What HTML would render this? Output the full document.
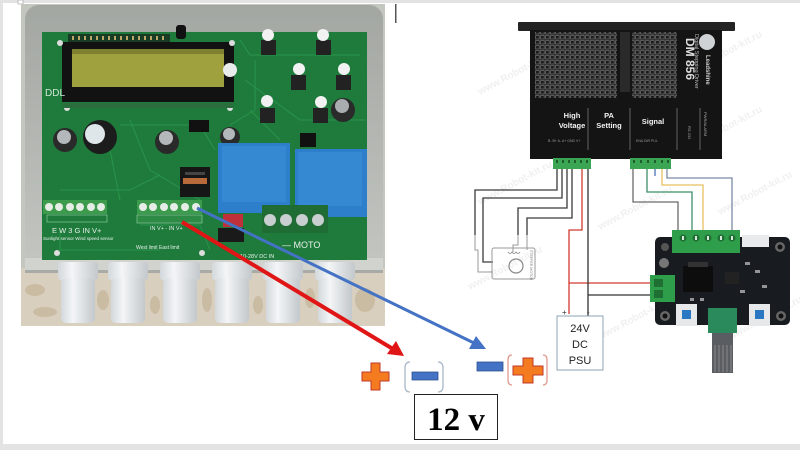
<!DOCTYPE html>
<html><head><meta charset="utf-8"><style>
html,body{margin:0;padding:0;background:#fff;}
svg{display:block;}
text{font-family:"Liberation Sans",sans-serif;}
</style></head><body>
<svg width="800" height="450" viewBox="0 0 800 450" xmlns="http://www.w3.org/2000/svg">
<defs>
<pattern id="grid" width="5" height="5" patternUnits="userSpaceOnUse">
<rect width="5" height="5" fill="#1b1b1b"/>
<rect x="0.6" y="0.6" width="3.6" height="3.4" fill="none" stroke="#6a6a6a" stroke-width="0.8"/>
</pattern>
<linearGradient id="case" x1="0" y1="0" x2="0" y2="1">
<stop offset="0" stop-color="#a3a7a2"/><stop offset="1" stop-color="#c3c6c1"/>
</linearGradient>
<linearGradient id="gland" x1="0" y1="0" x2="1" y2="0">
<stop offset="0" stop-color="#d3d8dc"/><stop offset="0.35" stop-color="#f3f5f6"/><stop offset="1" stop-color="#c3c8cc"/>
</linearGradient>
</defs>

<!-- page frame -->
<rect x="0" y="0" width="800" height="450" fill="#fff"/>
<rect x="0" y="0" width="800" height="3" fill="#e3e3e3"/>
<rect x="0" y="0" width="3" height="450" fill="#e3e3e3"/>
<rect x="0" y="444" width="800" height="6" fill="#e4e4e4"/>
<rect x="18" y="0" width="5" height="4" fill="#fff" stroke="#aaa" stroke-width="0.7"/>
<rect x="395" y="4" width="1.5" height="19" fill="#555"/>

<!-- ===== LEFT PHOTO ===== -->
<rect x="21" y="4" width="364" height="322" fill="#c4c6c0"/>
<rect x="21" y="268" width="364" height="58" fill="#d9cfbf"/>
<g fill="#c4b398" opacity="0.7">
<ellipse cx="35" cy="290" rx="10" ry="6"/><ellipse cx="45" cy="312" rx="12" ry="5"/>
<ellipse cx="103" cy="300" rx="6" ry="10"/><ellipse cx="155" cy="305" rx="5" ry="9"/>
<ellipse cx="207" cy="300" rx="5" ry="12"/><ellipse cx="258" cy="305" rx="5" ry="9"/>
<ellipse cx="310" cy="298" rx="5" ry="10"/><ellipse cx="365" cy="300" rx="10" ry="12"/>
</g>
<rect x="25" y="5" width="358" height="266" rx="14" fill="url(#case)"/>
<rect x="25" y="258" width="358" height="14" fill="#d1d3ce"/>
<rect x="25" y="270" width="358" height="3" fill="#a8aba6"/>
<!-- PCB -->
<rect x="42" y="32" width="325" height="228" fill="#1e7b3c"/>
<g stroke="#2d9a4e" stroke-width="1" fill="none" opacity="0.8">
<path d="M240 40 L250 55 L360 55"/><path d="M245 80 L300 120 L365 120"/>
<path d="M130 120 L150 170 L200 200"/><path d="M110 150 L120 200"/>
<path d="M60 190 L130 190 L160 175"/><path d="M250 110 L280 140"/>
<path d="M140 225 L200 225 L210 250"/><path d="M60 230 L60 250 L160 250"/>
<path d="M120 125 L200 125 L215 150"/><path d="M255 60 L255 110 L230 125"/>
</g>
<!-- LCD -->
<rect x="68" y="34" width="102" height="8" fill="#1b3c24"/>
<g fill="#b9a86a"><rect x="72" y="36" width="2" height="4"/><rect x="78" y="36" width="2" height="4"/><rect x="84" y="36" width="2" height="4"/><rect x="90" y="36" width="2" height="4"/><rect x="96" y="36" width="2" height="4"/><rect x="102" y="36" width="2" height="4"/><rect x="108" y="36" width="2" height="4"/><rect x="114" y="36" width="2" height="4"/><rect x="120" y="36" width="2" height="4"/><rect x="126" y="36" width="2" height="4"/><rect x="132" y="36" width="2" height="4"/><rect x="138" y="36" width="2" height="4"/><rect x="144" y="36" width="2" height="4"/><rect x="150" y="36" width="2" height="4"/><rect x="156" y="36" width="2" height="4"/><rect x="162" y="36" width="2" height="4"/></g>
<rect x="62" y="42" width="172" height="60" fill="#121212"/>
<rect x="72" y="49" width="152" height="38" fill="#9fa03e"/>
<rect x="72" y="49" width="152" height="5" fill="#7f8030"/>
<circle cx="60" cy="43" r="3" fill="#ddd"/><circle cx="232" cy="43" r="3" fill="#ddd"/>
<circle cx="67" cy="108" r="3" fill="#ddd"/><circle cx="230" cy="108" r="3" fill="#ddd"/>
<rect x="63" y="103" width="170" height="5" fill="#2b6e3d"/>
<circle cx="230" cy="70" r="7" fill="#e8ecea"/>
<rect x="176" y="25" width="10" height="14" rx="3" fill="#111"/>
<!-- buttons -->
<g>
<rect x="261" y="40" width="15" height="15" fill="#222"/><circle cx="268" cy="35" r="6" fill="#f2f2f2"/>
<rect x="316" y="40" width="15" height="15" fill="#222"/><circle cx="323" cy="35" r="6" fill="#f2f2f2"/>
<rect x="291" y="75" width="15" height="15" fill="#222"/><circle cx="299" cy="69" r="6" fill="#f2f2f2"/>
<rect x="336" y="75" width="15" height="15" fill="#222"/><circle cx="344" cy="69" r="6" fill="#f2f2f2"/>
<rect x="260" y="108" width="15" height="15" fill="#222"/><circle cx="267" cy="101" r="6" fill="#f2f2f2"/>
<rect x="313" y="108" width="15" height="15" fill="#222"/><circle cx="321" cy="102" r="6" fill="#f2f2f2"/>
</g>
<!-- capacitors -->
<circle cx="65" cy="140" r="12" fill="#2a2a2a"/><circle cx="64" cy="137" r="7" fill="#b5b8bb"/>
<circle cx="100" cy="137" r="17" fill="#1c1c1c"/><circle cx="95" cy="134" r="10" fill="#dfe6ea"/>
<circle cx="167" cy="142" r="12" fill="#2a2a2a"/><circle cx="166" cy="138" r="7" fill="#b5b8bb"/>
<circle cx="230" cy="137" r="10" fill="#2a2a2a"/><circle cx="229" cy="134" r="6" fill="#b5b8bb"/>
<circle cx="343" cy="110" r="12" fill="#2a2a2a"/><circle cx="342" cy="106" r="7" fill="#a9adb0"/>
<rect x="189" y="120" width="20" height="12" fill="#111"/>
<rect x="300" y="133" width="16" height="14" fill="#111"/>
<!-- inductor -->
<rect x="180" y="167" width="30" height="30" fill="#161616"/>
<rect x="183" y="178" width="24" height="6" fill="#b86a3a"/>
<rect x="185" y="172" width="20" height="3" fill="#444"/>
<!-- relays -->
<rect x="218" y="143" width="72" height="70" fill="#2d7fcb"/>
<rect x="222" y="146" width="64" height="56" fill="#3588d2"/>
<rect x="295" y="149" width="72" height="68" fill="#2d7fcb"/>
<rect x="298" y="152" width="64" height="54" fill="#3588d2"/>
<!-- terminal blocks -->
<rect x="43" y="200" width="64" height="14" fill="#3c9b4c"/>
<g fill="#e6ece6"><circle cx="49" cy="207" r="4"/><circle cx="59" cy="207" r="4"/><circle cx="70" cy="207" r="4"/><circle cx="80" cy="207" r="4"/><circle cx="91" cy="207" r="4"/><circle cx="101" cy="207" r="4"/></g>
<rect x="47" y="215" width="60" height="7" fill="none" stroke="#7fc08f" stroke-width="0.8"/>
<rect x="137" y="200" width="65" height="14" fill="#3c9b4c"/>
<g fill="#e6ece6"><circle cx="143" cy="207" r="4"/><circle cx="153" cy="207" r="4"/><circle cx="164" cy="207" r="4"/><circle cx="174" cy="207" r="4"/><circle cx="185" cy="207" r="4"/><circle cx="196" cy="207" r="4"/></g>
<rect x="137" y="215" width="65" height="8" fill="#2e8b45" stroke="#7fc08f" stroke-width="0.8"/>
<rect x="262" y="205" width="66" height="28" fill="#1f6d35"/>
<g fill="#c9ced0"><circle cx="270" cy="220" r="6"/><circle cx="286" cy="220" r="6"/><circle cx="302" cy="220" r="6"/><circle cx="318" cy="220" r="6"/></g>
<rect x="223" y="214" width="20" height="13" fill="#c0303a"/>
<rect x="218" y="228" width="26" height="14" fill="#1a1a1a"/>
<!-- PCB labels -->
<g fill="#e8f0ea" font-size="8">
<text x="45" y="96" font-size="10" fill="#d0e4d4">DDL</text>
<text x="52" y="233" font-size="7.5">E  W  3  G  IN  V+</text>
<text x="43" y="240" font-size="4.5">Sunlight sensor  Wind speed sensor</text>
<text x="150" y="230" font-size="5.5">IN V+   -  IN V+</text>
<text x="136" y="249" font-size="5">West limit   East limit</text>
<text x="282" y="248" font-size="9">—  MOTO</text>
<text x="240" y="258" font-size="5.5">10-28V DC IN</text>
</g>
<circle cx="57" cy="253" r="3" fill="#ddd"/><circle cx="202" cy="253" r="3" fill="#ddd"/>
<!-- glands -->
<g>
<rect x="58" y="262" width="40" height="18" rx="3" fill="url(#gland)"/><rect x="61" y="278" width="34" height="45" rx="5" fill="url(#gland)"/>
<rect x="108" y="262" width="40" height="18" rx="3" fill="url(#gland)"/><rect x="111" y="278" width="34" height="45" rx="5" fill="url(#gland)"/>
<rect x="160" y="262" width="40" height="18" rx="3" fill="url(#gland)"/><rect x="163" y="278" width="34" height="45" rx="5" fill="url(#gland)"/>
<rect x="212" y="262" width="40" height="18" rx="3" fill="url(#gland)"/><rect x="215" y="278" width="34" height="45" rx="5" fill="url(#gland)"/>
<rect x="263" y="262" width="40" height="18" rx="3" fill="url(#gland)"/><rect x="266" y="278" width="34" height="45" rx="5" fill="url(#gland)"/>
<rect x="315" y="262" width="40" height="18" rx="3" fill="url(#gland)"/><rect x="318" y="278" width="34" height="45" rx="5" fill="url(#gland)"/>
</g>

<!-- ===== WATERMARKS ===== -->
<g fill="#f0f0f0" font-size="10" font-weight="bold">
<text transform="translate(480,95) rotate(-28)">www.Robot-kit.ru</text>
<text transform="translate(690,75) rotate(-28)">www.Robot-kit.ru</text>
<text transform="translate(690,150) rotate(-28)">www.Robot-kit.ru</text>
<text transform="translate(480,205) rotate(-28)">www.Robot-kit.ru</text>
<text transform="translate(600,230) rotate(-28)">www.Robot-kit.ru</text>
<text transform="translate(720,215) rotate(-28)">www.Robot-kit.ru</text>
<text transform="translate(470,290) rotate(-28)">www.Robot-kit.ru</text>
<text transform="translate(600,340) rotate(-28)">www.Robot-kit.ru</text>
<text transform="translate(730,340) rotate(-28)">www.Robot-kit.ru</text>
</g>

<!-- ===== DRIVER ===== -->
<rect x="518" y="22" width="217" height="9" rx="1" fill="#242424"/>
<rect x="530" y="30" width="192" height="129" fill="#141414"/>
<rect x="535" y="32" width="82" height="66" fill="url(#grid)"/>
<rect x="632" y="32" width="45" height="66" fill="url(#grid)"/>
<rect x="620" y="32" width="10" height="60" fill="#2a2a2a"/>
<text transform="translate(686,38) rotate(90)" fill="#ddd" font-size="12" font-weight="bold">DM 856</text>
<text transform="translate(695,34) rotate(90)" fill="#bbb" font-size="5.5">Digital Stepping Driver</text>
<circle cx="707" cy="42" r="8" fill="#cfd2d4"/>
<text transform="translate(706,55) rotate(90)" fill="#ccc" font-size="6" font-weight="bold">Leadshine</text>
<g fill="#f2f2f2" font-size="7.5" font-weight="bold" text-anchor="middle">
<text x="572" y="118">High</text><text x="572" y="128">Voltage</text>
<text x="609" y="118">PA</text><text x="609" y="128">Setting</text>
<text x="653" y="124">Signal</text>
</g>
<g stroke="#777" stroke-width="0.8">
<line x1="588" y1="108" x2="588" y2="150"/><line x1="630" y1="108" x2="630" y2="150"/>
<line x1="677" y1="108" x2="677" y2="150"/><line x1="700" y1="108" x2="700" y2="150"/>
</g>
<text transform="translate(704,112) rotate(90)" fill="#aaa" font-size="4">PWR/ALARM</text>
<text transform="translate(688,126) rotate(90)" fill="#aaa" font-size="4">RS 232</text>
<g fill="#999" font-size="3.5">
<text x="548" y="142">B- B+ A- A+ GND V+</text>
<text x="636" y="142">ENA DIR PUL</text>
</g>
<rect x="553" y="158" width="38" height="11" fill="#3aa552"/>
<rect x="630" y="158" width="41" height="11" fill="#3aa552"/>
<g fill="#1d5e2c"><rect x="556" y="160" width="2" height="3"/><rect x="562" y="160" width="2" height="3"/><rect x="568" y="160" width="2" height="3"/><rect x="574" y="160" width="2" height="3"/><rect x="580" y="160" width="2" height="3"/><rect x="586" y="160" width="2" height="3"/>
<rect x="633" y="160" width="2" height="3"/><rect x="640" y="160" width="2" height="3"/><rect x="647" y="160" width="2" height="3"/><rect x="654" y="160" width="2" height="3"/><rect x="661" y="160" width="2" height="3"/><rect x="667" y="160" width="2" height="3"/></g>

<!-- motor wires -->
<g fill="none" stroke="#3a3a3a" stroke-width="1.3">
<polyline points="557,169 557,190 475,190 475,235"/>
<polyline points="562,169 562,198 483,198 483,262 493,262"/>
<polyline points="567,169 567,208 518,208 518,235"/>
<polyline points="572,169 572,218 527,218 527,235"/>
</g>
<g fill="none" stroke="#9a9a9a" stroke-width="1">
<polyline points="475,235 475,250 478,250 478,272 493,272"/>
<polyline points="518,235 518,245 513,245 513,252"/>
<polyline points="527,235 527,250"/>
</g>
<rect x="492" y="248" width="43" height="31" rx="2" fill="none" stroke="#9a9a9a" stroke-width="1"/>
<circle cx="516" cy="266" r="7" fill="none" stroke="#888" stroke-width="1.2"/>
<path d="M508 252 q2 3 4 0 q2 3 4 0 q2 3 4 0" fill="none" stroke="#888" stroke-width="0.8"/>
<text transform="translate(530,250) rotate(90)" fill="#888" font-size="3.5">STEPPER MOTOR</text>
<!-- power wires -->
<g fill="none" stroke-width="1.3">
<polyline stroke="#d0392e" points="582,169 582,230 569,230 569,314"/>
<polyline stroke="#d0392e" points="569,283 651,283"/>
<polyline stroke="#333" points="588,169 588,316"/>
<polyline stroke="#333" points="588,295 651,295"/>
</g>
<text x="562" y="315" font-size="8" fill="#333">+</text>
<text x="587" y="315" font-size="8" fill="#333">-</text>
<!-- signal wires -->
<g fill="none" stroke-width="1.3">
<polyline stroke="#6a6a6a" points="633,169 633,202 678,202 678,232"/>
<polyline stroke="#3c8f68" points="647,169 647,192 692,192 692,232"/>
<polyline stroke="#4a6fb5" points="655,169 655,176"/>
<polyline stroke="#e8c060" points="662,169 662,185 703,185 703,232"/>
<polyline stroke="#7a8aa8" points="667,169 667,178 732,178 732,232"/>
</g>
<!-- PSU -->
<rect x="557" y="316" width="46" height="54" fill="#fff" stroke="#8ea4b4" stroke-width="1"/>
<g font-size="11" fill="#222" text-anchor="middle">
<text x="580" y="332">24V</text><text x="580" y="348">DC</text><text x="580" y="364">PSU</text>
</g>

<!-- controller board -->
<rect x="655" y="237" width="135" height="88" rx="5" fill="#181b20"/>
<circle cx="665" cy="247" r="4" fill="#555"/><circle cx="780" cy="247" r="5" fill="#666"/><circle cx="780" cy="247" r="2.5" fill="#111"/>
<circle cx="665" cy="316" r="5" fill="#666"/><circle cx="665" cy="316" r="2.5" fill="#111"/>
<circle cx="781" cy="316" r="5" fill="#666"/><circle cx="781" cy="316" r="2.5" fill="#111"/>
<rect x="672" y="230" width="68" height="23" fill="#2f9e4a"/>
<g fill="#1f6e33"><circle cx="683" cy="238" r="3.5"/><circle cx="696" cy="238" r="3.5"/><circle cx="708" cy="238" r="3.5"/><circle cx="721" cy="238" r="3.5"/><circle cx="732" cy="238" r="3.5"/></g>
<g fill="#d8e8dc"><rect x="682" y="236" width="2" height="4"/><rect x="695" y="236" width="2" height="4"/><rect x="707" y="236" width="2" height="4"/><rect x="720" y="236" width="2" height="4"/><rect x="731" y="236" width="2" height="4"/></g>
<rect x="742" y="235" width="27" height="12" fill="#e8eaec"/>
<circle cx="664" cy="263" r="5" fill="#777"/>
<rect x="683" y="266" width="30" height="26" fill="#0d0d0d"/>
<rect x="688" y="262" width="20" height="5" fill="#333"/>
<rect x="725" y="272" width="14" height="12" fill="#222"/>
<g fill="#c8c8c8" opacity="0.7"><rect x="745" y="262" width="5" height="3"/><rect x="755" y="270" width="5" height="3"/><rect x="740" y="290" width="5" height="3"/><rect x="762" y="285" width="5" height="3"/><rect x="700" y="298" width="4" height="3"/><rect x="690" y="298" width="4" height="3"/></g>
<rect x="650" y="275" width="25" height="27" fill="#2f9e4a"/>
<rect x="654" y="279" width="9" height="8" fill="#1f6e33"/><rect x="654" y="290" width="9" height="8" fill="#1f6e33"/>
<rect x="676" y="304" width="21" height="22" fill="#e6e8ea"/><rect x="682" y="310" width="9" height="9" fill="#2b78c2"/>
<rect x="749" y="304" width="21" height="22" fill="#e6e8ea"/><rect x="755" y="310" width="9" height="9" fill="#2b78c2"/>
<rect x="708" y="308" width="29" height="25" fill="#2a8a5c"/>
<rect x="712" y="333" width="21" height="40" fill="#5a5e62"/>
<g stroke="#888" stroke-width="1"><line x1="715" y1="345" x2="715" y2="372"/><line x1="719" y1="345" x2="719" y2="372"/><line x1="723" y1="345" x2="723" y2="372"/><line x1="727" y1="345" x2="727" y2="372"/><line x1="731" y1="345" x2="731" y2="372"/></g>

<!-- ===== ARROWS ===== -->
<line x1="182" y1="222" x2="393" y2="349" stroke="#e01515" stroke-width="4"/>
<polygon points="404,356 387,354 396,341" fill="#e01515"/>
<line x1="197" y1="208" x2="474" y2="343" stroke="#4472c4" stroke-width="3"/>
<polygon points="486,349 469,349 476,336" fill="#4472c4"/>

<!-- ===== SYMBOLS ===== -->
<path d="M371 363 h9 v9 h9 v9 h-9 v9 h-9 v-9 h-9 v-9 h9 z" fill="#f47b20" stroke="#c0392b" stroke-width="1"/>
<path d="M410 362 q-5 0 -5 6 v18 q0 6 5 6" fill="none" stroke="#a9b8c8" stroke-width="1.3"/>
<path d="M438 362 q5 0 5 6 v18 q0 6 -5 6" fill="none" stroke="#a9b8c8" stroke-width="1.3"/>
<rect x="412" y="372" width="26" height="8" fill="#4472c4" stroke="#2f528f" stroke-width="0.8"/>
<rect x="477" y="362" width="26" height="9" fill="#4472c4" stroke="#2f528f" stroke-width="0.8"/>
<path d="M512 355 q-4 0 -4 5 v20 q0 5 4 5" fill="none" stroke="#e0998c" stroke-width="1.3"/>
<path d="M543 355 q4 0 4 5 v20 q0 5 -4 5" fill="none" stroke="#e0998c" stroke-width="1.3"/>
<path d="M523 358 h10 v8 h10 v9 h-10 v8 h-10 v-8 h-10 v-9 h10 z" fill="#f47b20" stroke="#c0392b" stroke-width="1"/>
<rect x="414.5" y="394.5" width="83" height="45" fill="#fff" stroke="#222" stroke-width="1"/>
<text x="456" y="430" text-anchor="middle" font-weight="bold" font-size="33" fill="#000" style="font-family:'Liberation Serif',serif">12 v</text>
</svg>
</body></html>
